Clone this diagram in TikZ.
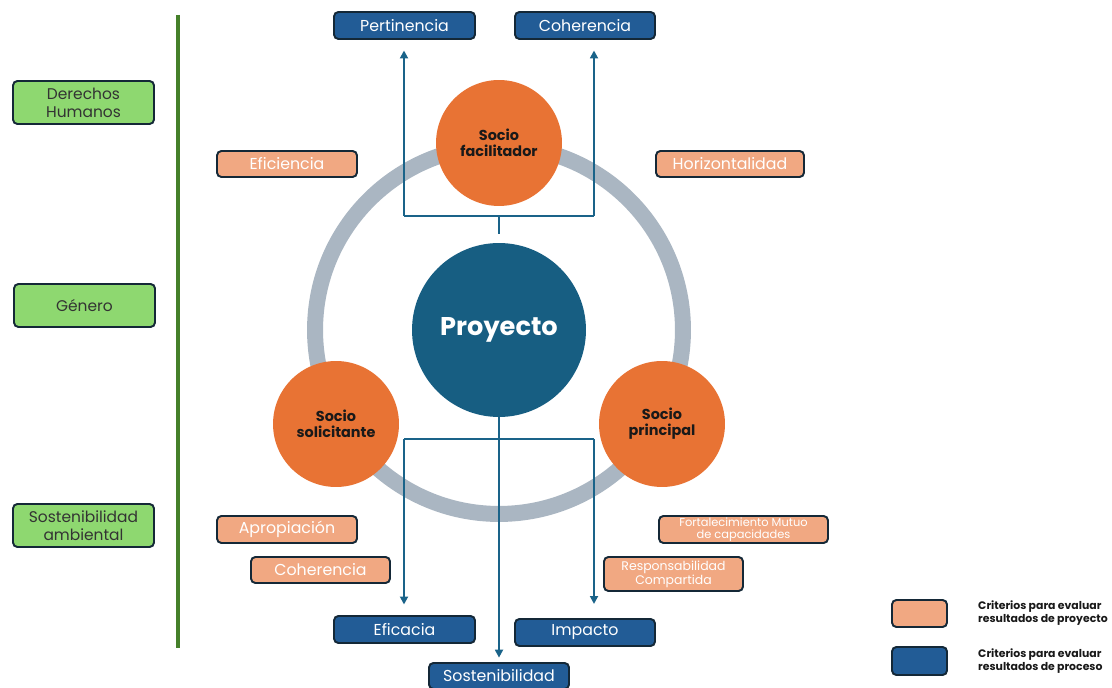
\documentclass[tikz,border=0pt]{standalone}
\usepackage{fontspec}
\setmainfont{Poppins}
\usetikzlibrary{arrows.meta}
\definecolor{lineteal}{RGB}{26,99,137}
\definecolor{proyfill}{RGB}{23,94,130}
\definecolor{sociofill}{RGB}{232,115,52}
\definecolor{salmon}{RGB}{241,168,130}
\definecolor{procblue}{RGB}{34,92,150}
\definecolor{boxborder}{RGB}{20,40,55}
\definecolor{greenbox}{RGB}{142,216,112}
\definecolor{greenline}{RGB}{69,128,42}
\definecolor{ringgray}{RGB}{170,182,194}
\tikzset{
  basebox/.style={draw=boxborder, line width=1.1pt, rounded corners=2.5pt, inner sep=0pt, align=center},
  procbox/.style={basebox, fill=procblue, text=white, font=\fontsize{9}{10.5}\selectfont},
  projbox/.style={basebox, fill=salmon, text=white, font=\fontsize{9}{10.5}\selectfont},
  greenbx/.style={basebox, fill=greenbox, text=black!80, font=\fontsize{8.8}{10.2}\selectfont, minimum width=2.82cm, minimum height=0.86cm},
  socio/.style={circle, fill=sociofill, minimum size=2.52cm, inner sep=0pt, align=center, text=black!90, font=\fontsize{8.2}{9.2}\selectfont\bfseries},
  conn/.style={draw=lineteal, line width=1.1pt},
  arr/.style={conn, -{Triangle[length=4.5pt,width=4.5pt]}},
  legtext/.style={anchor=west, align=left, text=black!90, font=\fontsize{6.2}{7.6}\selectfont\bfseries}
}
\begin{document}
\begin{tikzpicture}[x=0.02cm, y=-0.02cm]
\useasboundingbox (0,0) rectangle (1112,688);
% left green axis
\coordinate (gtop) at (178,15);
\coordinate (gbot) at (178,648);
\draw[greenline, line width=2.2pt] (gtop) -- (gbot);
\node[greenbx] (dh) at (83.5,102.5) {Derechos\\Humanos};
\node[greenbx] (gen) at (84.5,305.5) {Género};
\node[greenbx] (sa) at (83.5,525.5) {Sostenibilidad\\ambiental};
% ring
\coordinate (ctr) at (499,330);
\draw[ringgray, line width=0.32cm] (ctr) circle[radius=3.68cm];
% boxes
\node[procbox, minimum width=2.82cm, minimum height=0.54cm] (pert) at (404.5,25.5) {Pertinencia};
\node[procbox, minimum width=2.80cm, minimum height=0.54cm] (coh1) at (585,25.5) {Coherencia};
\node[projbox, minimum width=2.80cm, minimum height=0.52cm] (efic) at (287,164) {Eficiencia};
\node[projbox, minimum width=2.96cm, minimum height=0.52cm] (horiz) at (730,164) {Horizontalidad};
\node[projbox, minimum width=2.80cm, minimum height=0.54cm] (apro) at (287,529.5) {Apropiación};
\node[projbox, minimum width=2.78cm, minimum height=0.52cm] (coh2) at (320.5,570) {Coherencia};
\node[projbox, minimum width=3.38cm, minimum height=0.54cm, font=\fontsize{6.5}{7.2}\selectfont] (fort) at (743.5,529.5) {Fortalecimiento Mutuo\\de capacidades};
\node[projbox, minimum width=2.78cm, minimum height=0.68cm, font=\fontsize{7.1}{7.9}\selectfont] (resp) at (673.5,574) {Responsabilidad\\Compartida};
\node[procbox, minimum width=2.82cm, minimum height=0.54cm] (efica) at (404.5,629.5) {Eficacia};
\node[procbox, minimum width=2.80cm, minimum height=0.54cm] (imp) at (585,632.5) {Impacto};
\node[procbox, minimum width=2.80cm, minimum height=0.52cm] (sost) at (499,676) {Sostenibilidad};
% centre
\node[circle, fill=proyfill, minimum size=3.48cm, inner sep=0pt, text=white, font=\fontsize{14.6}{16}\selectfont\bfseries] (proy) at (ctr) {Proyecto};
% connectors top
\coordinate (tj) at (499,216);
\coordinate (tl) at (404,216);
\coordinate (tr) at (594,216);
\draw[conn, shorten <=5pt] (proy.north) -- (tj);
\draw[conn] (tl) -- (tr);
\draw[arr, shorten >=6pt] (tl) -- (tl |- pert.south);
\draw[arr, shorten >=6pt] (tr) -- (tr |- coh1.south);
% connectors bottom
\coordinate (bl) at (404,439);
\coordinate (br) at (594,439);
\draw[conn] (bl) -- (br);
\draw[arr, shorten >=2.5pt] (proy.south) -- (sost.north);
\draw[arr, shorten >=6pt] (bl) -- (bl |- efica.north);
\draw[arr, shorten >=8pt] (br) -- (br |- imp.north);
% socios
\node[socio] (fac) at (499,143) {Socio\\facilitador};
\node[socio] (sol) at (336,424) {Socio\\solicitante};
\node[socio] (pri) at (662,424) {Socio\\principal};
% legend
\node[projbox, minimum width=1.1cm, minimum height=0.54cm] (legp) at (919.5,613.5) {};
\node[procbox, minimum width=1.1cm, minimum height=0.56cm] (legb) at (919.5,661) {};
\node[legtext] (legpt) at (972,613) {Criterios para evaluar\\resultados de proyecto};
\node[legtext] (legbt) at (972,661) {Criterios para evaluar\\resultados de proceso};
\end{tikzpicture}
\end{document}
